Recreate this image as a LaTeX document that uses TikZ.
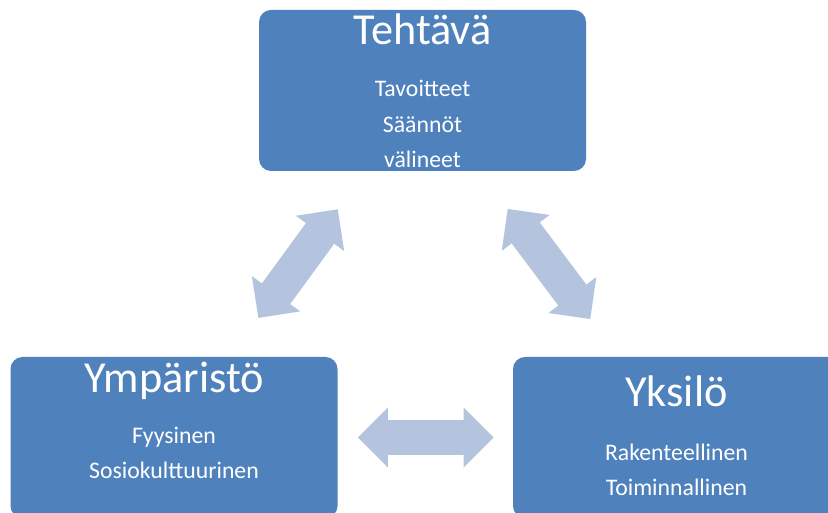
\documentclass[tikz,border=0pt]{standalone}
\usepackage{fontspec}
\setmainfont{Carlito}
\usetikzlibrary{arrows.meta}
\definecolor{boxblue}{HTML}{4F81BD}
\definecolor{arrowblue}{HTML}{B4C3DE}

\begin{document}
\begin{tikzpicture}[
  box/.style={fill=boxblue, rounded corners=0.3cm, minimum width=8.175cm, minimum height=4.025cm},
  title/.style={text=white, anchor=base, font=\fontsize{31.5}{36}\selectfont},
  items/.style={text=white, anchor=base, align=center, font=\fontsize{16.9}{25.6}\selectfont},
  twoway/.style={draw=arrowblue, line width=0.875cm,
    {Triangle[length=0.75cm, width=1.45cm]}-{Triangle[length=0.75cm, width=1.45cm]}}
]
\clip (0,0) rectangle (20.7,12.825);

\node[box] (tehtava) at (10.5625,10.5625) {};
\node[box] (ymparisto) at (4.35,1.8875) {};
\node[box] (yksilo) at (16.9125,1.8875) {};

% anchor=base sits on the last line
\node[title] (tehtavaT) at (10.5625,11.7) {Tehtävä};
\node[items] (tehtavaL) at (10.5625,8.625) {Tavoitteet\\Säännöt\\välineet};

\node[title] (ymparistoT) at (4.35,3.0) {Ympäristö};
\node[items] (ymparistoL) at (4.35,0.85) {Fyysinen\\Sosiokulttuurinen};

\node[title] (yksiloT) at (16.9125,2.65) {Yksilö};
\node[items] (yksiloL) at (16.9125,0.425) {Rakenteellinen\\Toiminnallinen};

\draw[twoway, shorten <=1.175cm, shorten >=1.2cm] ([xshift=-1.425cm]tehtava.south) -- ([xshift=1.4cm]ymparisto.north);
\draw[twoway, shorten <=1.175cm, shorten >=1.175cm] ([xshift=1.425cm]tehtava.south) -- ([xshift=-1.45cm]yksilo.north);
\draw[twoway, shorten <=0.5cm, shorten >=0.475cm] (ymparisto.east) -- (yksilo.west);
\end{tikzpicture}
\end{document}
